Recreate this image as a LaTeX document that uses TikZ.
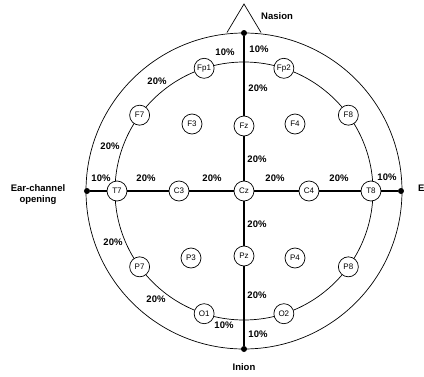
\documentclass[tikz,border=0pt]{standalone}
\usepackage{fontspec}
\setmainfont{Liberation Sans}
\begin{document}
\begin{tikzpicture}[x=1pt, y=1pt,
  electrode/.style={draw, circle, fill=white, line width=0.7pt, minimum size=20pt, inner sep=0pt, font=\fontsize{8}{9}\selectfont},
  enddot/.style={circle, fill=black, inner sep=0pt, minimum size=6pt},
  pct/.style={font=\bfseries\fontsize{9.5}{10}\selectfont, inner sep=0pt},
  lbl/.style={font=\bfseries\fontsize{9.5}{11}\selectfont, align=center, inner sep=0pt},
  ring/.style={line width=0.7pt},
  midline/.style={draw, line width=2.2pt}]
\useasboundingbox (-244,-185) rectangle (180,191);
\clip (-244,-185) rectangle (180,191);

% head outline and nose
\draw[ring] (0,0) circle[radius=158pt];
\draw[ring] (0,0) circle[radius=129pt];
\draw[ring] (-17,158.5) -- (0,187) -- (17,158.5);

% reference points
\node[enddot] (nasion) at (90:158) {};
\node[enddot] (inion) at (-90:158) {};
\node[enddot] (earL) at (180:157) {};
\node[enddot] (earR) at (0:157) {};

% electrodes on the ring
\node[electrode] (Fp1) at (108:129) {Fp1};
\node[electrode] (Fp2) at (72:129) {Fp2};
\node[electrode] (F7) at (144:129) {F7};
\node[electrode] (F8) at (36:129) {F8};
\node[electrode] (T7) at (180:127) {T7};
\node[electrode] (T8) at (0:127) {T8};
\node[electrode] (P7) at (-144:129) {P7};
\node[electrode] (P8) at (-36:129) {P8};
\node[electrode] (O1) at (-108:129) {O1};
\node[electrode] (O2) at (-72:129) {O2};

% inner electrodes
\node[electrode] (F3) at (-52,67) {F3};
\node[electrode] (Fz) at (0,65) {Fz};
\node[electrode] (F4) at (51,67) {F4};
\node[electrode] (C3) at (-65,0) {C3};
\node[electrode] (Cz) at (0,0) {Cz};
\node[electrode] (C4) at (65,0) {C4};
\node[electrode] (P3) at (-53,-67) {P3};
\node[electrode] (Pz) at (0,-65) {Pz};
\node[electrode] (P4) at (51,-67) {P4};

\path[midline] (nasion) -- (Fz);
\path[midline] (Fz) -- (Cz);
\path[midline] (Cz) -- (Pz);
\path[midline] (Pz) -- (inion);
\path[midline] (earL) -- (T7);
\path[midline] (T7) -- (C3);
\path[midline] (C3) -- (Cz);
\path[midline] (Cz) -- (C4);
\path[midline] (C4) -- (T8);
\path[midline] (T8) -- (earR);

% labels
\node[lbl, anchor=west] (nasionlbl) at (17,175) {Nasion};
\node[lbl] (inionlbl) at (0,-176) {Inion};
\node[lbl] (earLlbl) at (-206,-4) {Ear-channel\\opening};
\node[lbl, anchor=west] (earRlbl) at (174,-4) {Ear-channel\\opening};

% distances
\node[pct] (p1) at (-19,139) {10\%};
\node[pct] (p2) at (15,142) {10\%};
\node[pct] (p3) at (14,103) {20\%};
\node[pct] (p4) at (13,32) {20\%};
\node[pct] (p5) at (-87,110) {20\%};
\node[pct] (p6) at (-134,45) {20\%};
\node[pct] (p7) at (-143,13) {10\%};
\node[pct] (p8) at (-98,13) {20\%};
\node[pct] (p9) at (-32,13) {20\%};
\node[pct] (p10) at (31,13) {20\%};
\node[pct] (p11) at (95,13) {20\%};
\node[pct] (p12) at (143,14) {10\%};
\node[pct] (p13) at (13,-33) {20\%};
\node[pct] (p14) at (-131,-51) {20\%};
\node[pct] (p15) at (-88,-108) {20\%};
\node[pct] (p16) at (13,-104) {20\%};
\node[pct] (p17) at (-20,-134) {10\%};
\node[pct] (p18) at (14,-143) {10\%};
\end{tikzpicture}
\end{document}
